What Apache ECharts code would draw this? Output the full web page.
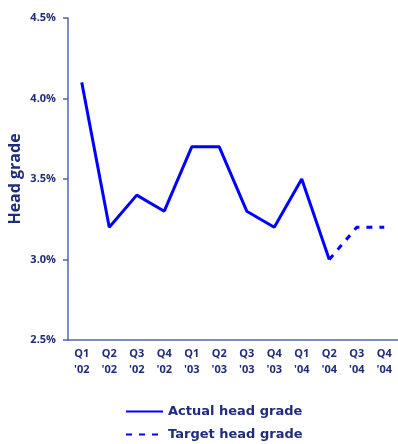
<!DOCTYPE html>
<html>
<head>
<meta charset="utf-8">
<script src="https://cdn.jsdelivr.net/npm/echarts@6/dist/echarts.min.js"></script>
<style>
  html, body { margin: 0; padding: 0; background: #fff; }
  #chart { width: 398px; height: 444px; }
</style>
</head>
<body>
<div id="chart"></div>
<script>
// Quarterly head grade, in percent
const quarters = ["Q1\n'02", "Q2\n'02", "Q3\n'02", "Q4\n'02", "Q1\n'03", "Q2\n'03",
                  "Q3\n'03", "Q4\n'03", "Q1\n'04", "Q2\n'04", "Q3\n'04", "Q4\n'04"];
const actualGrade = [4.1, 3.2, 3.4, 3.3, 3.7, 3.7, 3.3, 3.2, 3.5, 3.0, null, null];
const targetGrade = [null, null, null, null, null, null, null, null, null, 3.0, 3.2, 3.2];

const navy = '#1f2c7a';
const axisColor = '#5566a8';
const lineBlue = '#0000ff';

const legendBase = {
  orient: 'vertical',
  left: 125,
  padding: 0,
  itemWidth: 37, itemHeight: 12,
  itemStyle: { opacity: 0 },
  textStyle: { color: navy, fontWeight: 'bold', fontSize: 13, fontFamily: 'DejaVu Sans' }
};

const chart = echarts.init(document.getElementById('chart'));
chart.setOption({
  animation: false,
  textStyle: { fontFamily: 'Open Sans' },
  grid: { left: 68, right: 0, top: 18, bottom: 104, outerBoundsMode: 'none', containLabel: false },
  xAxis: {
    type: 'category',
    data: quarters,
    boundaryGap: true,
    axisLine: { lineStyle: { color: axisColor, width: 1.5 } },
    axisTick: { show: false },
    axisLabel: {
      color: navy, fontWeight: 'bold', fontSize: 11, lineHeight: 16,
      margin: 6, interval: 0
    }
  },
  yAxis: {
    type: 'value',
    min: 2.5, max: 4.5, interval: 0.5,
    name: 'Head grade',
    nameLocation: 'middle',
    nameGap: 45,
    nameMoveOverlap: false,
    nameTextStyle: { color: navy, fontWeight: 'bold', fontSize: 16, fontFamily: 'Open Sans' },
    axisLine: { show: true, lineStyle: { color: axisColor, width: 1.5 } },
    axisTick: { show: true, length: 5, lineStyle: { color: axisColor, width: 1.5 } },
    splitLine: { show: false },
    axisLabel: {
      color: navy, fontWeight: 'bold', fontSize: 11, margin: 12,
      formatter: v => v.toFixed(1) + '%'
    }
  },
  legend: [
    Object.assign({}, legendBase, { top: 405, data: ['Actual head grade'] }),
    Object.assign({}, legendBase, { top: 428, data: ['Target head grade'] })
  ],
  series: [
    {
      name: 'Actual head grade',
      type: 'line',
      data: actualGrade,
      symbol: 'none',
      lineStyle: { color: lineBlue, width: 3 },
      itemStyle: { color: lineBlue }
    },
    {
      name: 'Target head grade',
      type: 'line',
      data: targetGrade,
      symbol: 'none',
      lineStyle: { color: lineBlue, width: 3, type: [6, 7] },
      itemStyle: { color: lineBlue }
    }
  ]
});
</script>
</body>
</html>
